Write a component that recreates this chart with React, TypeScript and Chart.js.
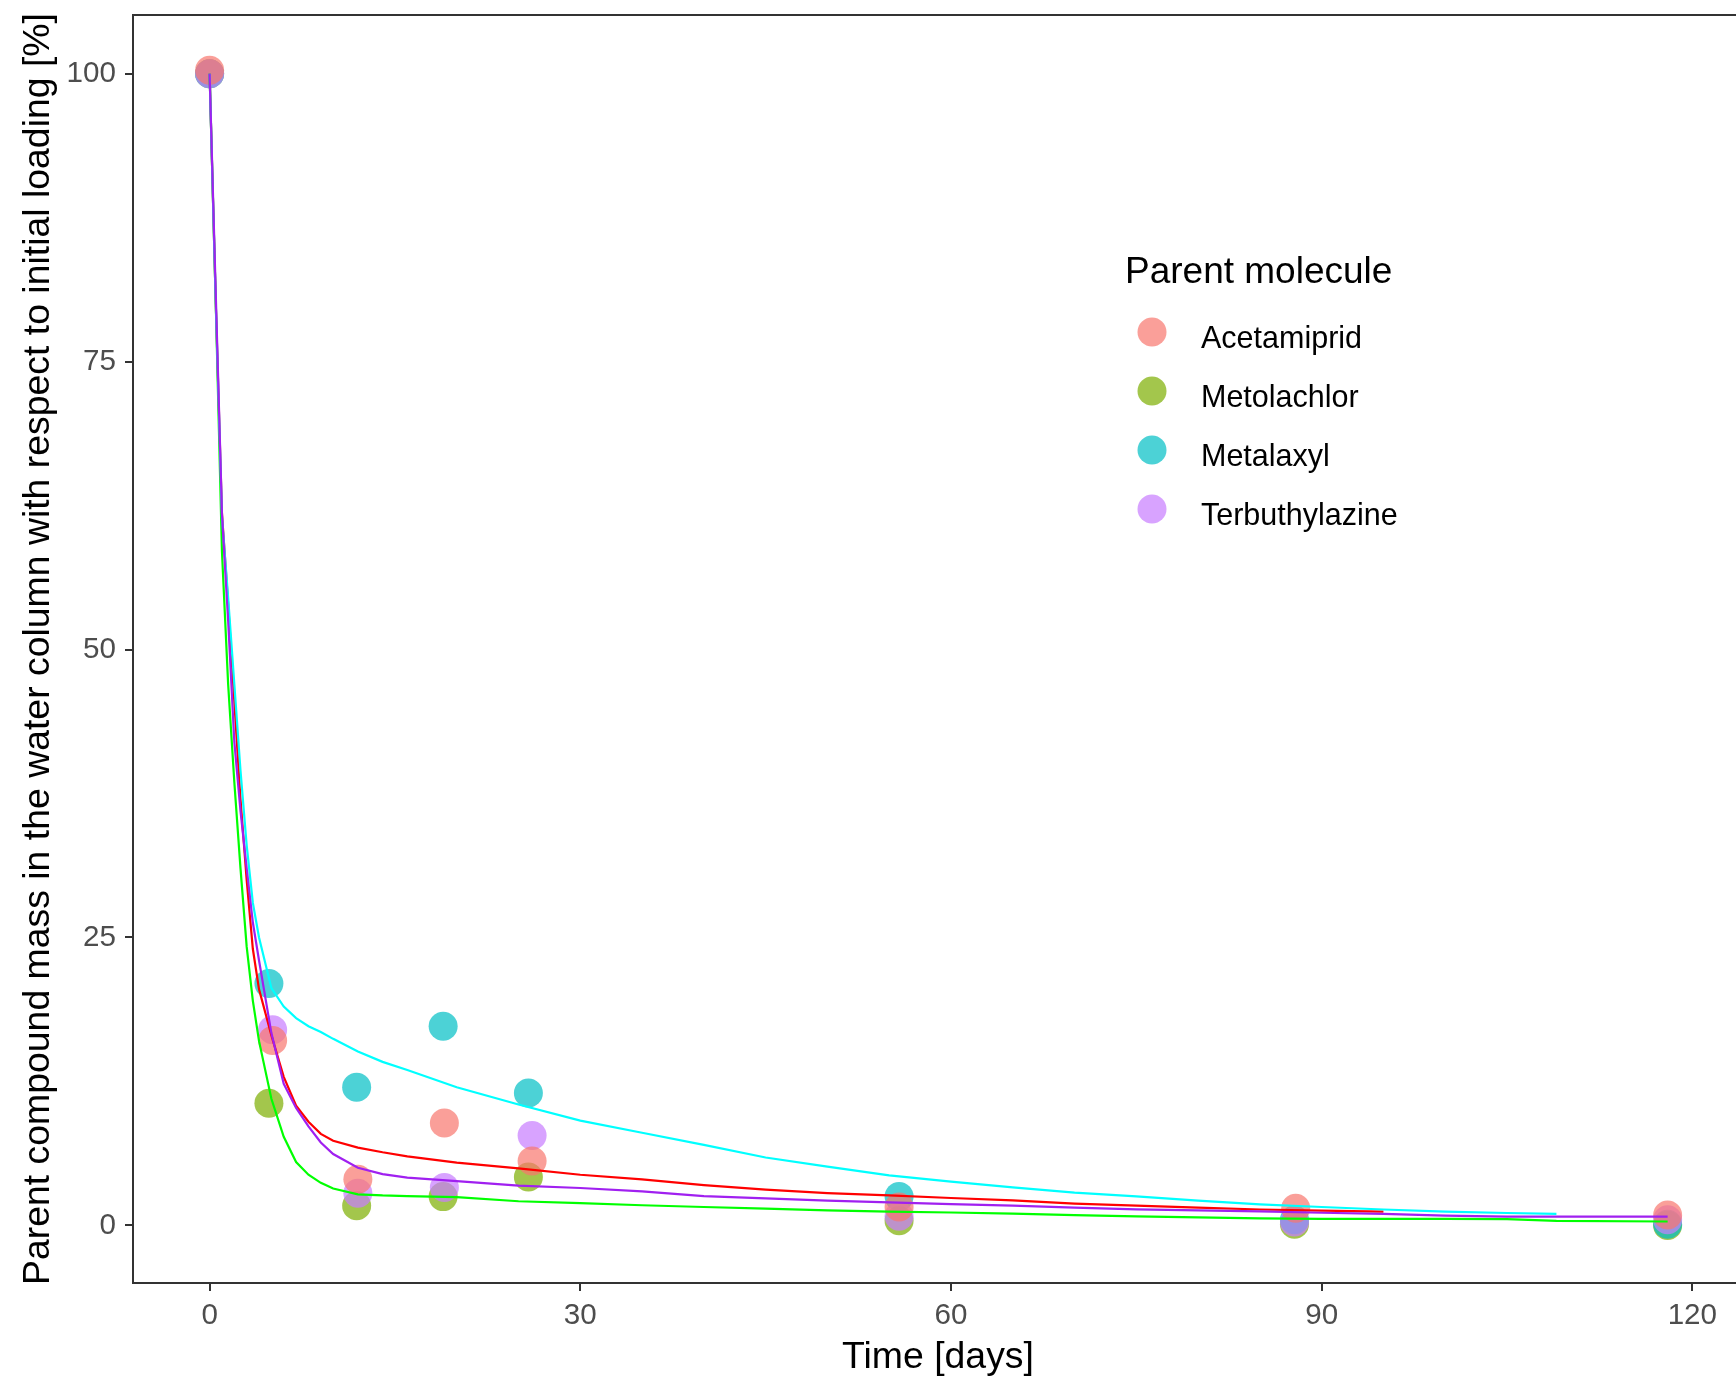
import React, { useEffect, useRef } from "react";
import { Chart, registerables } from "chart.js";

Chart.register(...registerables);

const FONT = "'Liberation Sans', Arial, Helvetica, sans-serif";

// Series names (legend order)
const SERIES = ["Acetamiprid", "Metolachlor", "Metalaxyl", "Terbuthylazine"];
const POINT_COLORS = [
  "rgba(248,118,109,0.7)",
  "rgba(124,174,0,0.7)",
  "rgba(0,191,196,0.7)",
  "rgba(199,124,255,0.7)",
];
const LINE_COLORS = ["#FF0000", "#00FF00", "#00FFFF", "#A020F0"];

// Observed data (time in days, % of initial loading)
const ACETAMIPRID_T = [0, 5.1, 12, 19, 26.1, 55.8, 87.9, 118];
const ACETAMIPRID_V = [100.3, 16.05, 4.0, 8.9, 5.6, 1.6, 1.5, 0.9];
const METOLACHLOR_T = [0, 4.8, 11.9, 18.9, 25.8, 55.8, 87.8, 118];
const METOLACHLOR_V = [100, 10.6, 1.7, 2.5, 4.2, 0.4, 0.1, 0.0];
const METALAXYL_T = [0, 4.8, 11.9, 18.9, 25.8, 55.8, 87.8, 118];
const METALAXYL_V = [100, 21.0, 12.0, 17.3, 11.5, 2.5, 0.5, 0.1];
const TERBUTHYLAZINE_T = [0, 5.1, 12, 19, 26.1, 55.8, 87.8, 118];
const TERBUTHYLAZINE_V = [100, 17.0, 2.8, 3.3, 7.8, 0.8, 0.3, 0.5];

// Fitted curves, null = not drawn
const CURVE_T = [
  0, 0.5, 1, 1.5, 2, 2.5, 3, 3.5, 4, 5, 6, 7, 8, 9, 10, 12, 14, 16, 20, 25, 30,
  35, 40, 45, 50, 55, 60, 65, 70, 75, 80, 85, 90, 95, 100, 105, 109, 118,
];
const ACETAMIPRID_FIT = [
  100, 80, 61.8, 54, 45.5, 37, 30, 24, 20.5, 16.5, 12.9, 10.4, 9.0, 7.95, 7.35,
  6.75, 6.35, 6.0, 5.45, 4.95, 4.4, 4.0, 3.5, 3.1, 2.8, 2.6, 2.38, 2.17, 1.9,
  1.72, 1.55, 1.38, 1.28, 1.2, null, null, null, null,
];
const METOLACHLOR_FIT = [
  100, 80, 58.5, 47, 38.5, 31, 24.2, 19.5, 16, 11.0, 7.7, 5.5, 4.4, 3.7, 3.2,
  2.7, 2.6, 2.55, 2.45, 2.1, 1.93, 1.75, 1.6, 1.45, 1.3, 1.2, 1.12, 1.02, 0.9,
  0.78, 0.7, 0.62, 0.57, 0.57, 0.57, 0.55, 0.4, 0.34,
];
const METALAXYL_FIT = [
  100, 80, 61.5, 54.5, 47, 39.5, 33, 28, 25, 20.6, 19.0, 18.0, 17.3, 16.8, 16.2,
  15.1, 14.2, 13.5, 12.0, 10.5, 9.1, 8.05, 7.0, 5.9, 5.1, 4.35, 3.8, 3.3, 2.85,
  2.52, 2.15, 1.82, 1.6, 1.38, 1.2, 1.08, 1.0, null,
];
const TERBUTHYLAZINE_FIT = [
  100, 80.8, 61.8, 52.5, 42, 36, 31, 26.3, 23, 16.7, 12.3, 10.2, 8.6, 7.2, 6.2,
  5.0, 4.45, 4.15, 3.85, 3.45, 3.25, 2.95, 2.55, 2.35, 2.15, 2.0, 1.85, 1.72,
  1.55, 1.4, 1.3, 1.22, 1.1, 1.0, 0.85, 0.77, 0.77, 0.77,
];

const X_TICKS = [0, 30, 60, 90, 120];
const Y_TICKS = [0, 25, 50, 75, 100];

const X_TITLE = "Time [days]";
const Y_TITLE =
  "Parent compound mass in the water column with respect to initial loading [%]";
const LEGEND_TITLE = "Parent molecule";

const pts = (t: number[], v: (number | null)[]) =>
  t
    .map((x, i) => ({ x, y: v[i] }))
    .filter((p) => p.y !== null && p.y !== undefined) as { x: number; y: number }[];

const boxPlugin = {
  id: "panelBox",
  afterDraw(chart: any) {
    const { ctx, chartArea } = chart;
    ctx.save();
    ctx.strokeStyle = "#333333";
    ctx.lineWidth = 2;
    ctx.strokeRect(
      chartArea.left,
      chartArea.top,
      chartArea.right - chartArea.left,
      chartArea.bottom - chartArea.top
    );
    ctx.restore();
  },
};

const legendPlugin = {
  id: "insideLegend",
  afterDraw(chart: any) {
    const { ctx } = chart;
    ctx.save();
    ctx.fillStyle = "#000000";
    ctx.textAlign = "left";
    ctx.textBaseline = "alphabetic";
    ctx.font = `37px ${FONT}`;
    ctx.fillText(LEGEND_TITLE, 1125, 283);
    const keyX = 1152;
    const labelX = 1201;
    const y0 = 332;
    const dy = 59;
    ctx.font = `30.5px ${FONT}`;
    SERIES.forEach((name, i) => {
      const cy = y0 + i * dy;
      ctx.beginPath();
      ctx.arc(keyX, cy, 14.5, 0, Math.PI * 2);
      ctx.fillStyle = POINT_COLORS[i];
      ctx.fill();
      ctx.fillStyle = "#000000";
      ctx.fillText(name, labelX, cy + 16);
    });
    ctx.restore();
  },
};

export default function App() {
  const ref = useRef<HTMLCanvasElement | null>(null);

  useEffect(() => {
    document.body.style.margin = "0";
    if (!ref.current) return;
    const fits = [ACETAMIPRID_FIT, METOLACHLOR_FIT, METALAXYL_FIT, TERBUTHYLAZINE_FIT];
    const obsT = [ACETAMIPRID_T, METOLACHLOR_T, METALAXYL_T, TERBUTHYLAZINE_T];
    const obsV = [ACETAMIPRID_V, METOLACHLOR_V, METALAXYL_V, TERBUTHYLAZINE_V];
    // draw order (lower = on top)
    const lineOrder = [2, 3, 1, 0];
    const pointOrder = [4, 7, 6, 5];

    const datasets: any[] = [];
    SERIES.forEach((name, i) => {
      datasets.push({
        type: "scatter",
        label: name + " fit",
        data: pts(CURVE_T, fits[i]),
        showLine: true,
        borderColor: LINE_COLORS[i],
        backgroundColor: LINE_COLORS[i],
        borderWidth: 2.2,
        pointRadius: 0,
        tension: 0,
        order: lineOrder[i],
      });
    });
    SERIES.forEach((name, i) => {
      datasets.push({
        type: "scatter",
        label: name,
        data: pts(obsT[i], obsV[i]),
        showLine: false,
        backgroundColor: POINT_COLORS[i],
        borderColor: "rgba(0,0,0,0)",
        borderWidth: 0,
        pointRadius: 14.5,
        order: pointOrder[i],
      });
    });

    const tickFont = { family: FONT, size: 29.6 };
    const titleFont = { family: FONT, size: 37.4 };

    const chart = new Chart(ref.current, {
      type: "scatter",
      data: { datasets },
      plugins: [boxPlugin, legendPlugin],
      options: {
        responsive: false,
        animation: false,
        devicePixelRatio: 1,
        layout: { padding: { top: 15, right: 17, left: 0, bottom: 0 } },
        plugins: {
          legend: { display: false },
          tooltip: { enabled: false },
        },
        scales: {
          x: {
            type: "linear",
            min: -6.2,
            max: 124.1,
            afterFit: (s: any) => {
              s.height = 101;
              s.paddingLeft = 0;
              s.paddingRight = 0;
            },
            afterBuildTicks: (s: any) => {
              s.ticks = X_TICKS.map((v) => ({ value: v }));
            },
            grid: {
              display: true,
              drawOnChartArea: false,
              drawTicks: true,
              tickLength: 8,
              tickColor: "#333333",
              tickWidth: 2,
              lineWidth: 2,
            },
            border: { display: false },
            ticks: {
              font: tickFont,
              color: "#4D4D4D",
              padding: 7,
              maxRotation: 0,
              autoSkip: false,
            },
            title: {
              display: true,
              text: X_TITLE,
              font: titleFont,
              color: "#000000",
              padding: { top: 0, bottom: 4 },
            },
          },
          y: {
            type: "linear",
            min: -5,
            max: 105.1,
            afterFit: (s: any) => {
              s.width = 133;
              s.paddingTop = 0;
              s.paddingBottom = 0;
            },
            afterBuildTicks: (s: any) => {
              s.ticks = Y_TICKS.map((v) => ({ value: v }));
            },
            grid: {
              display: true,
              drawOnChartArea: false,
              drawTicks: true,
              tickLength: 8,
              tickColor: "#333333",
              tickWidth: 2,
              lineWidth: 2,
            },
            border: { display: false },
            ticks: {
              font: tickFont,
              color: "#4D4D4D",
              padding: 9,
              autoSkip: false,
            },
            title: {
              display: true,
              text: Y_TITLE,
              font: titleFont,
              color: "#000000",
              padding: { top: 16, bottom: 0 },
            },
          },
        },
      } as any,
    });
    return () => chart.destroy();
  }, []);

  return (
    <div
      style={{
        position: "fixed",
        left: 0,
        top: 0,
        width: 1736,
        height: 1384,
        overflow: "hidden",
        background: "#ffffff",
      }}
    >
      <canvas
        ref={ref}
        width={1760}
        height={1384}
        style={{ display: "block", width: 1760, height: 1384 }}
      />
    </div>
  );
}
